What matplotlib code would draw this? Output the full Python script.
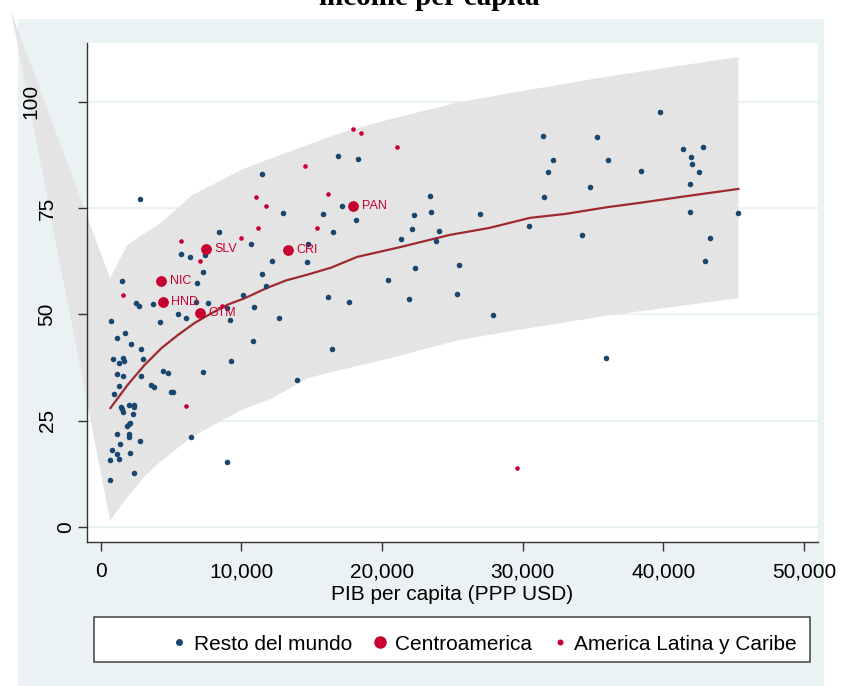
import matplotlib
matplotlib.use("Agg")
import matplotlib.pyplot as plt
from matplotlib.patches import Rectangle
from matplotlib.lines import Line2D

plt.rcParams["font.family"] = ["Liberation Sans", "DejaVu Sans"]

BLUE = "#1A476F"
RED = "#C80032"
PANEL = "#EAF2F3"
BAND = "#E4E4E4"
FIT = "#9E2A2F"

# Resto del mundo
rest_x = [760, 1710, 1160, 2180, 2850, 880, 1280, 1590, 1690, 2990, 9300, 1190, 1590, 2890,
          4410, 4770, 7280, 1350, 3560, 3800, 5030, 5170, 950,
          1470, 1540, 1590, 2060, 2350, 2370, 2300, 1900, 2010, 2110, 1140, 1990, 2010, 2780,
          1370, 6450, 850, 1160, 2110, 690, 1280, 8990, 2370, 660,
          2820, 8420, 1540, 2540, 2730, 3720, 6790, 7640, 9010, 10130, 5500, 6070, 9180, 4200,
          5690, 6330, 7400, 7310, 6860,
          16890, 18320, 11510, 17170, 12980, 15800, 18170, 16510, 10720, 14760, 12220, 14680,
          11510, 11770, 20450, 10940, 16160, 17670, 12670, 10870, 16490, 13950,
          39790, 31460, 35320, 41370, 42820, 41940, 42060, 42510, 32170, 36090, 31810, 38430,
          41920, 34800, 23420, 31510, 23490, 22280, 26990, 41900, 45320, 22160, 24060, 21350,
          23870, 30460, 34230, 43300, 42990, 22330, 25460, 25340, 21900, 27900, 35920]
rest_y = [48.5, 45.7, 44.5, 43.0, 41.8, 39.5, 38.5, 39.7, 39.1, 39.6, 39.0, 36.1, 35.6, 35.5,
          36.6, 36.3, 36.4, 33.2, 33.5, 33.0, 31.7, 31.7, 31.4,
          28.2, 27.7, 27.1, 28.7, 28.8, 28.2, 26.6, 23.8, 24.2, 24.5, 21.9, 21.9, 21.2, 20.2,
          19.6, 21.2, 18.1, 17.3, 17.5, 15.8, 16.1, 15.2, 12.7, 11.1,
          77.1, 69.3, 57.8, 52.7, 51.9, 52.5, 53.0, 52.7, 51.6, 54.5, 50.2, 49.2, 48.7, 48.3,
          64.1, 63.4, 64.0, 60.0, 57.4,
          87.3, 86.5, 83.0, 75.5, 73.8, 73.6, 72.3, 69.3, 66.5, 66.5, 62.5, 62.4,
          59.6, 56.7, 58.2, 51.8, 54.0, 52.9, 49.1, 43.7, 41.8, 34.6,
          97.5, 92.0, 91.7, 88.8, 89.4, 87.1, 85.4, 83.5, 86.4, 86.4, 83.5, 83.8,
          80.7, 79.9, 77.9, 77.6, 74.0, 73.4, 73.5, 74.0, 73.8, 70.0, 69.6, 67.7,
          67.2, 70.7, 68.6, 68.0, 62.6, 60.8, 61.7, 54.8, 53.6, 49.9, 39.8]

# Centroamerica
ca_names = ["PAN", "CRI", "SLV", "NIC", "HND", "GTM"]
ca_x = [17960, 13330, 7520, 4320, 4430, 7070]
ca_y = [75.6, 65.1, 65.3, 57.9, 52.8, 50.3]

# America Latina y Caribe
lac_x = [17960, 18550, 14570, 16160, 11080, 11790, 11170, 15400, 10010, 5740, 7070, 1590,
         8640, 6100, 21040, 29600]
lac_y = [93.7, 92.7, 84.8, 78.3, 77.6, 75.6, 70.3, 70.3, 68.0, 67.2, 62.5, 54.5,
         52.0, 28.5, 89.3, 14.0]

# fitted line
fit_x = [710, 1920, 3130, 4340, 5480, 6690, 7900, 9040, 10250, 11810, 13200, 14660, 16400,
         18220, 21280, 24840, 27600, 30530, 33000, 36010, 38500, 41210, 45340]
fit_y = [28.0, 33.4, 38.1, 42.1, 45.1, 48.0, 50.3, 52.3, 53.8, 56.2, 58.0, 59.3, 61.0,
         63.5, 65.8, 68.7, 70.3, 72.7, 73.6, 75.2, 76.3, 77.6, 79.5]

# confidence band
band_x = [680, 1900, 3100, 4300, 6500, 10000, 12200, 14700, 17000, 20600, 25500, 30500,
          36200, 45340]
band_lo = [1.6, 7.0, 11.8, 15.5, 21.2, 27.5, 30.3, 35.0, 36.9, 39.7, 44.0, 46.8, 49.8, 53.8]
band_hi = [58.5, 66.3, 69.0, 71.5, 78.0, 84.0, 86.8, 89.8, 92.6, 95.9, 99.9, 102.8,
           106.0, 110.5]
band_stray_x = -6360
band_stray_y = 121.3

x_ticks = [0, 10000, 20000, 30000, 40000, 50000]
x_tick_labels = ["0", "10,000", "20,000", "30,000", "40,000", "50,000"]
y_ticks = [0, 25, 50, 75, 100]
y_tick_labels = ["0", "25", "50", "75", "100"]
y_tick_pads = [2, 15.5, 15.5, 15.5, 27]

W, H = 841, 686
fig = plt.figure(figsize=(W / 100, H / 100), dpi=100)
fig.patch.set_facecolor("white")
fig.add_artist(Rectangle((18 / W, 0), (824 - 18) / W, 1 - 19 / H,
                         transform=fig.transFigure, facecolor=PANEL,
                         edgecolor="none", zorder=-10))

ax = fig.add_axes([87 / W, 1 - 542 / H, (818 - 87) / W, (542 - 43) / H])
ax.set_facecolor("white")
ax.set_xlim(-960, 51000)
ax.set_ylim(-3.5, 113.8)

for v in y_ticks:
    ax.axhline(v, color=PANEL, lw=1.6, zorder=0)

vx = band_x + band_x[::-1] + [band_stray_x]
vy = band_lo + band_hi[::-1] + [band_stray_y]
ax.fill(vx, vy, color=BAND, lw=0, zorder=1, clip_on=False)

ax.plot(fit_x, fit_y, color=FIT, lw=1.6, zorder=3)
ax.scatter(rest_x, rest_y, s=16, color=BLUE, lw=0, zorder=4)
ax.scatter(lac_x, lac_y, s=11, color=RED, lw=0, zorder=4)
ax.scatter(ca_x, ca_y, s=60, color=RED, lw=0, zorder=5)
for name, x, y in zip(ca_names, ca_x, ca_y):
    ax.annotate(name, (x, y), xytext=(6, 0), textcoords="offset points",
                color=RED, fontsize=9, va="center", ha="left", zorder=6)

for s in ["top", "right"]:
    ax.spines[s].set_visible(False)
for s in ["left", "bottom"]:
    ax.spines[s].set_color("#333333")
    ax.spines[s].set_linewidth(1.0)

ax.set_xticks(x_ticks)
ax.set_xticklabels(x_tick_labels, fontsize=15)
ax.set_yticks(y_ticks)
ax.set_yticklabels(y_tick_labels, fontsize=15, rotation=90, va="center")
ax.tick_params(axis="both", direction="out", length=6.4, width=1.0, color="#333333")
ax.tick_params(axis="x", pad=8)
for t, p in zip(ax.yaxis.get_major_ticks(), y_tick_pads):
    t.set_pad(p)

ax.set_xlabel("PIB per capita (PPP USD)", fontsize=15, labelpad=3)

# title sits mostly above the visible canvas, as in the source image
fig.text(0.51, 1 - 5 / H, "income per capita", ha="center", va="baseline",
         fontsize=21, fontweight="bold", family="Liberation Serif")

fig.add_artist(Rectangle((94 / W, 1 - 662 / H), (810 - 94) / W, 45 / H,
                         transform=fig.transFigure, facecolor="white",
                         edgecolor="#404040", lw=1.1, zorder=1))
handles = [
    Line2D([], [], ls="", marker="o", color=BLUE, markersize=4),
    Line2D([], [], ls="", marker="o", color=RED, markersize=8),
    Line2D([], [], ls="", marker="o", color=RED, markersize=3.3),
]
leg = fig.legend(handles, ["Resto del mundo", "Centroamerica", "America Latina y Caribe"],
                 loc="center right", bbox_to_anchor=(797 / W, 1 - 644 / H), ncol=3,
                 frameon=False, fontsize=15, handlelength=0.6, handletextpad=0.4,
                 columnspacing=1.05, borderpad=0, borderaxespad=0)
leg.set_zorder(2)

fig.savefig("out.png", dpi=100)
